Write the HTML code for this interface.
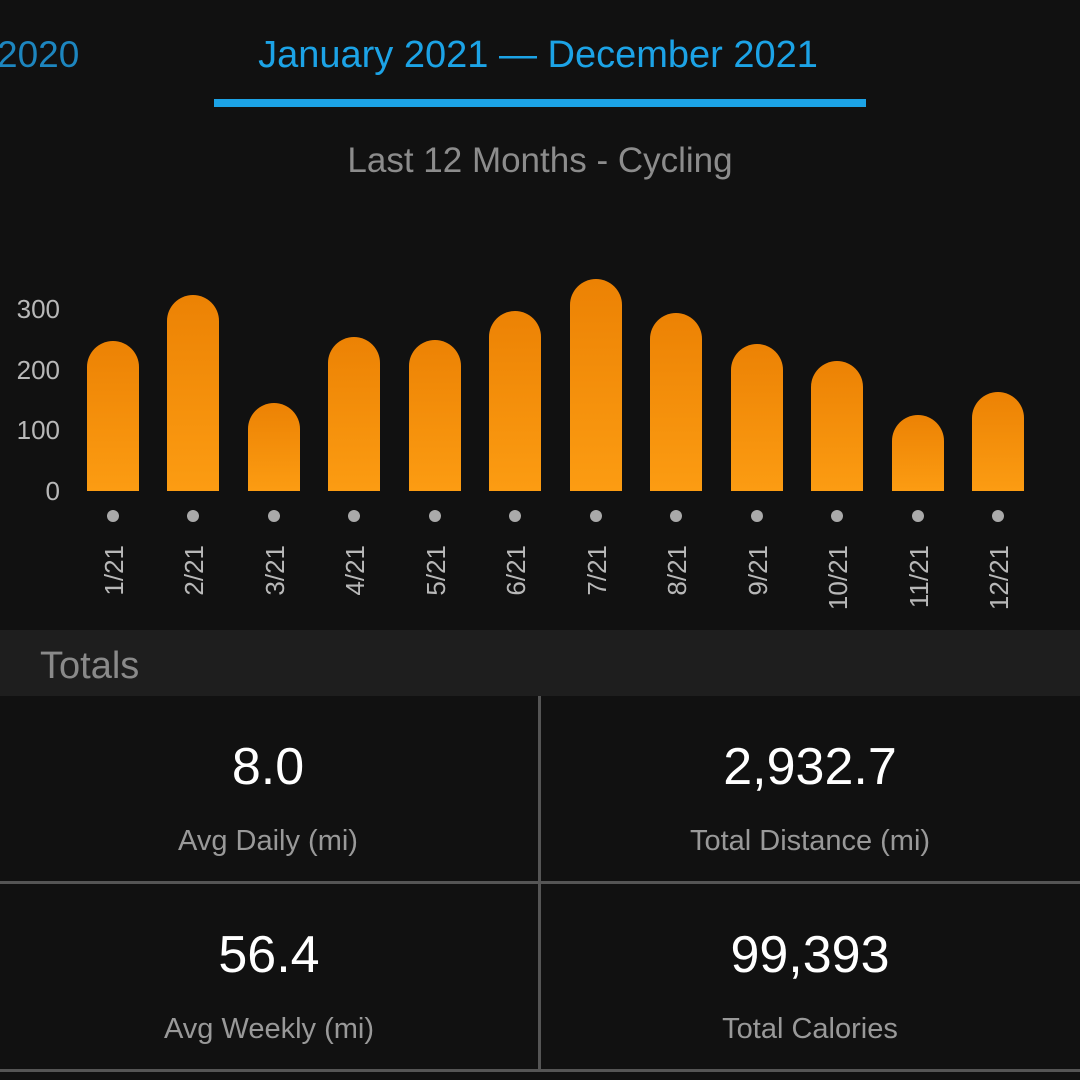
<!DOCTYPE html>
<html><head><meta charset="utf-8"><style>
html,body{margin:0;padding:0;background:#111;}
svg{display:block;font-family:"Liberation Sans",sans-serif;}
</style></head><body>
<svg width="1080" height="1080" viewBox="0 0 1080 1080">
<defs><linearGradient id="g" x1="0" y1="0" x2="0" y2="1">
<stop offset="0" stop-color="#ec8204"/><stop offset="1" stop-color="#fc9c12"/></linearGradient></defs>
<rect width="1080" height="1080" fill="#111"/>
<text x="-3" y="67" font-size="37" fill="#1d86bf">2020</text>
<text x="538" y="67" font-size="38" fill="#1ca3e6" text-anchor="middle">January 2021 — December 2021</text>
<rect x="214" y="99" width="652" height="8" fill="#1ca3e6"/>
<text x="540" y="172" font-size="35" fill="#8c8c8c" text-anchor="middle">Last 12 Months - Cycling</text>
<g font-size="26" fill="#b8b8b8" text-anchor="end">
<text x="60" y="318">300</text><text x="60" y="379">200</text><text x="60" y="439">100</text><text x="60" y="500">0</text>
</g>
<g fill="url(#g)">
<path d="M87 491V367A26 26 0 0 1 139 367V491Z"/>
<path d="M167 491V321A26 26 0 0 1 219 321V491Z"/>
<path d="M248 491V429A26 26 0 0 1 300 429V491Z"/>
<path d="M328 491V363A26 26 0 0 1 380 363V491Z"/>
<path d="M409 491V366A26 26 0 0 1 461 366V491Z"/>
<path d="M489 491V337A26 26 0 0 1 541 337V491Z"/>
<path d="M570 491V305A26 26 0 0 1 622 305V491Z"/>
<path d="M650 491V339A26 26 0 0 1 702 339V491Z"/>
<path d="M731 491V370A26 26 0 0 1 783 370V491Z"/>
<path d="M811 491V387A26 26 0 0 1 863 387V491Z"/>
<path d="M892 491V441A26 26 0 0 1 944 441V491Z"/>
<path d="M972 491V418A26 26 0 0 1 1024 418V491Z"/>
</g>
<g fill="#aaa">
<circle cx="113" cy="516" r="6"/><circle cx="193" cy="516" r="6"/><circle cx="274" cy="516" r="6"/><circle cx="354" cy="516" r="6"/><circle cx="435" cy="516" r="6"/><circle cx="515" cy="516" r="6"/><circle cx="596" cy="516" r="6"/><circle cx="676" cy="516" r="6"/><circle cx="757" cy="516" r="6"/><circle cx="837" cy="516" r="6"/><circle cx="918" cy="516" r="6"/><circle cx="998" cy="516" r="6"/>
</g>
<g font-size="26" fill="#b8b8b8" text-anchor="end">
<text transform="translate(123,545) rotate(-90)">1/21</text>
<text transform="translate(203,545) rotate(-90)">2/21</text>
<text transform="translate(284,545) rotate(-90)">3/21</text>
<text transform="translate(364,545) rotate(-90)">4/21</text>
<text transform="translate(445,545) rotate(-90)">5/21</text>
<text transform="translate(525,545) rotate(-90)">6/21</text>
<text transform="translate(606,545) rotate(-90)">7/21</text>
<text transform="translate(686,545) rotate(-90)">8/21</text>
<text transform="translate(767,545) rotate(-90)">9/21</text>
<text transform="translate(847,545) rotate(-90)">10/21</text>
<text transform="translate(928,545) rotate(-90)">11/21</text>
<text transform="translate(1008,545) rotate(-90)">12/21</text>
</g>
<rect x="0" y="630" width="1080" height="66" fill="#1e1e1e"/>
<text x="40" y="678" font-size="38" fill="#8a8a8a">Totals</text>
<rect x="538" y="696" width="3" height="374" fill="#555"/>
<rect x="0" y="881" width="1080" height="3" fill="#555"/>
<rect x="0" y="1069" width="1080" height="3" fill="#555"/>
<g text-anchor="middle">
<text x="268" y="784" font-size="52" fill="#fff">8.0</text>
<text x="268" y="850" font-size="29" fill="#999">Avg Daily (mi)</text>
<text x="810" y="784" font-size="52" fill="#fff">2,932.7</text>
<text x="810" y="850" font-size="29" fill="#999">Total Distance (mi)</text>
<text x="269" y="972" font-size="52" fill="#fff">56.4</text>
<text x="269" y="1038" font-size="29" fill="#999">Avg Weekly (mi)</text>
<text x="810" y="972" font-size="52" fill="#fff">99,393</text>
<text x="810" y="1038" font-size="29" fill="#999">Total Calories</text>
</g>
</svg>
</body></html>
